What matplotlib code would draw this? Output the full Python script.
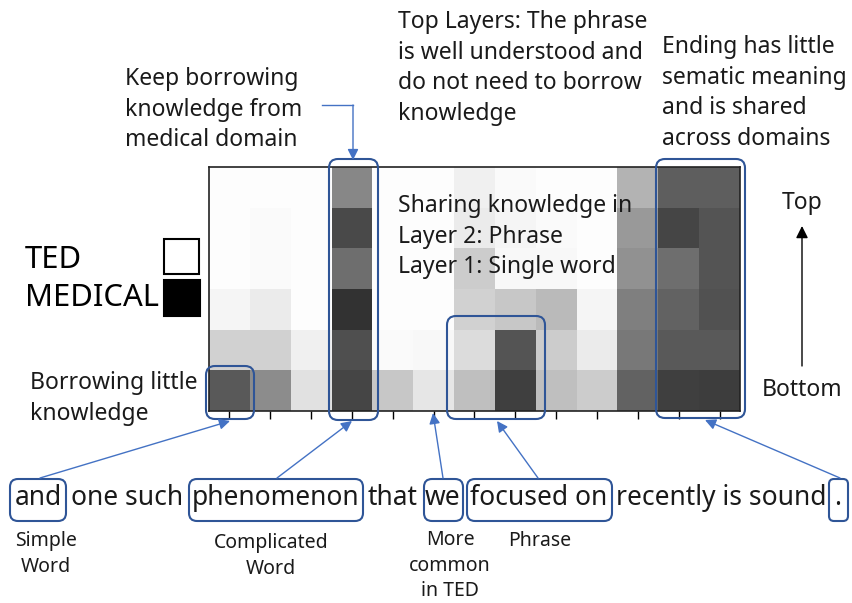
import matplotlib
matplotlib.use("Agg")
import matplotlib.pyplot as plt
import numpy as np
from matplotlib.patches import FancyBboxPatch, Rectangle

plt.rcParams['font.family'] = ['Noto Sans', 'DejaVu Sans']

# ---- data ----
tokens = ["and", "one", "such", "phenomenon", "that", "we", "focused", "on",
          "recently", "is", "sound", ".", "</s>"]
layers = ["Layer 6", "Layer 5", "Layer 4", "Layer 3", "Layer 2", "Layer 1"]  # top -> bottom
layer6 = [0.01, 0.01, 0.01, 0.47, 0.01, 0.01, 0.06, 0.02, 0.01, 0.01, 0.30, 0.63, 0.63]
layer5 = [0.01, 0.02, 0.01, 0.71, 0.01, 0.01, 0.08, 0.04, 0.02, 0.01, 0.40, 0.73, 0.67]
layer4 = [0.01, 0.02, 0.01, 0.57, 0.01, 0.01, 0.20, 0.03, 0.03, 0.01, 0.43, 0.57, 0.67]
layer3 = [0.04, 0.08, 0.01, 0.80, 0.01, 0.01, 0.18, 0.22, 0.27, 0.04, 0.50, 0.61, 0.68]
layer2 = [0.18, 0.18, 0.06, 0.69, 0.02, 0.03, 0.14, 0.67, 0.20, 0.08, 0.53, 0.65, 0.65]
layer1 = [0.65, 0.45, 0.12, 0.73, 0.22, 0.10, 0.25, 0.75, 0.25, 0.20, 0.61, 0.75, 0.76]
medical_weight = np.array([layer6, layer5, layer4, layer3, layer2, layer1])

W, H = 852, 603
fig = plt.figure(figsize=(W / 100, H / 100), dpi=100)

# heatmap axes (pixel box: x 209-740, y 167-411)
hx0, hx1, hy0, hy1 = 209, 740, 167, 411
ax = fig.add_axes([hx0 / W, 1 - hy1 / H, (hx1 - hx0) / W, (hy1 - hy0) / H])
ax.imshow(medical_weight, cmap='gray_r', vmin=0, vmax=1, aspect='auto',
          interpolation='nearest')
ax.set_xticks(np.arange(len(tokens)))
ax.set_xticklabels([''] * len(tokens))
ax.set_yticks([])
ax.tick_params(axis='x', direction='out', length=6, width=1, color='black')
for s in ax.spines.values():
    s.set_linewidth(1.2)
    s.set_color('#222222')

# overlay axes in pixel coordinates
ov = fig.add_axes([0, 0, 1, 1], zorder=5)
ov.set_xlim(0, W)
ov.set_ylim(H, 0)
ov.axis('off')
ov.patch.set_alpha(0)

BOX = '#2F5597'
ARR = '#4472C4'
TXT = '#1a1a1a'
fs = 16.5
ls = 1.37

def rbox(x0, y0, x1, y1, r=9):
    ov.add_patch(FancyBboxPatch((x0, y0), x1 - x0, y1 - y0,
                                boxstyle=f"round,pad=0,rounding_size={r}",
                                fill=False, ec=BOX, lw=1.5))

def arrow(x0, y0, x1, y1, color=ARR, lw=1.0, ms=16):
    ov.annotate('', xy=(x1, y1), xytext=(x0, y0),
                arrowprops=dict(arrowstyle='-|>', color=color, lw=lw,
                                mutation_scale=ms, shrinkA=0, shrinkB=0))

# top annotations
ov.text(125, 67, "Keep borrowing\nknowledge from\nmedical domain", fontsize=fs,
        color=TXT, va='top', ha='left', linespacing=ls)
ov.text(398, 10, "Top Layers: The phrase\nis well understood and\ndo not need to borrow\nknowledge",
        fontsize=fs, color=TXT, va='top', ha='left', linespacing=ls)
ov.text(662, 35, "Ending has little\nsematic meaning\nand is shared\nacross domains",
        fontsize=fs, color=TXT, va='top', ha='left', linespacing=ls)
ov.text(398, 194, "Sharing knowledge in\nLayer 2: Phrase\nLayer 1: Single word",
        fontsize=fs, color=TXT, va='top', ha='left', linespacing=ls)
ov.text(30, 371, "Borrowing little\nknowledge", fontsize=fs, color=TXT,
        va='top', ha='left', linespacing=ls)

# keep-borrowing elbow arrow
ov.plot([322, 353], [105, 105], color=ARR, lw=1.0)
arrow(353, 105, 353, 160)

# Top / Bottom
ov.text(802, 203, "Top", fontsize=fs, color=TXT, ha='center', va='center')
ov.text(802, 390, "Bottom", fontsize=fs, color=TXT, ha='center', va='center')
arrow(802, 366, 802, 226, color='black', lw=1.0, ms=18)

# legend TED / MEDICAL
ov.text(25, 260, "TED", fontsize=22.3, color='black', ha='left', va='center')
ov.text(25, 298, "MEDICAL", fontsize=22.3, color='black', ha='left', va='center')
ov.add_patch(Rectangle((164, 239), 35, 35, fc='white', ec='black', lw=1.5))
ov.add_patch(Rectangle((164, 280), 36, 36, fc='black', ec='black', lw=1.5))

# boxes on heatmap
rbox(206, 366, 254, 419)
rbox(329, 159, 378, 420)
rbox(447, 316, 545, 419)
rbox(656, 159, 745, 418)

# sentence
sfs = 19
sy = 498
pieces = [("and", 38), ("one such", 127), ("phenomenon", 276), ("that", 393),
          ("we", 443), ("focused on", 539), ("recently is sound", 721), (".", 838)]
for word, cx in pieces:
    ov.text(cx, sy, word, fontsize=sfs, color=TXT, ha='center', va='center')
rbox(10, 479, 66, 521, r=8)
rbox(189, 479, 363, 521, r=8)
rbox(424, 479, 463, 521, r=8)
rbox(467, 479, 612, 521, r=8)
rbox(829, 479, 848, 521, r=5)

# arrows from words to heatmap
arrow(40, 478, 230, 421)
arrow(277, 478, 352, 421)
arrow(443, 478, 433, 413)
arrow(538, 478, 497, 421)
arrow(840, 478, 705, 420)

# labels under words
lfs = 14.0
lls = 1.38
ov.text(46, 531, "Simple\nWord", fontsize=lfs, color=TXT, ha='center', va='top', linespacing=lls)
ov.text(271, 533, "Complicated\nWord", fontsize=lfs, color=TXT, ha='center', va='top', linespacing=lls)
ov.text(450, 530, "More\ncommon\nin TED", fontsize=lfs, color=TXT, ha='center', va='top', linespacing=lls)
ov.text(540, 531, "Phrase", fontsize=lfs, color=TXT, ha='center', va='top', linespacing=lls)

fig.savefig("out.png", dpi=100)
